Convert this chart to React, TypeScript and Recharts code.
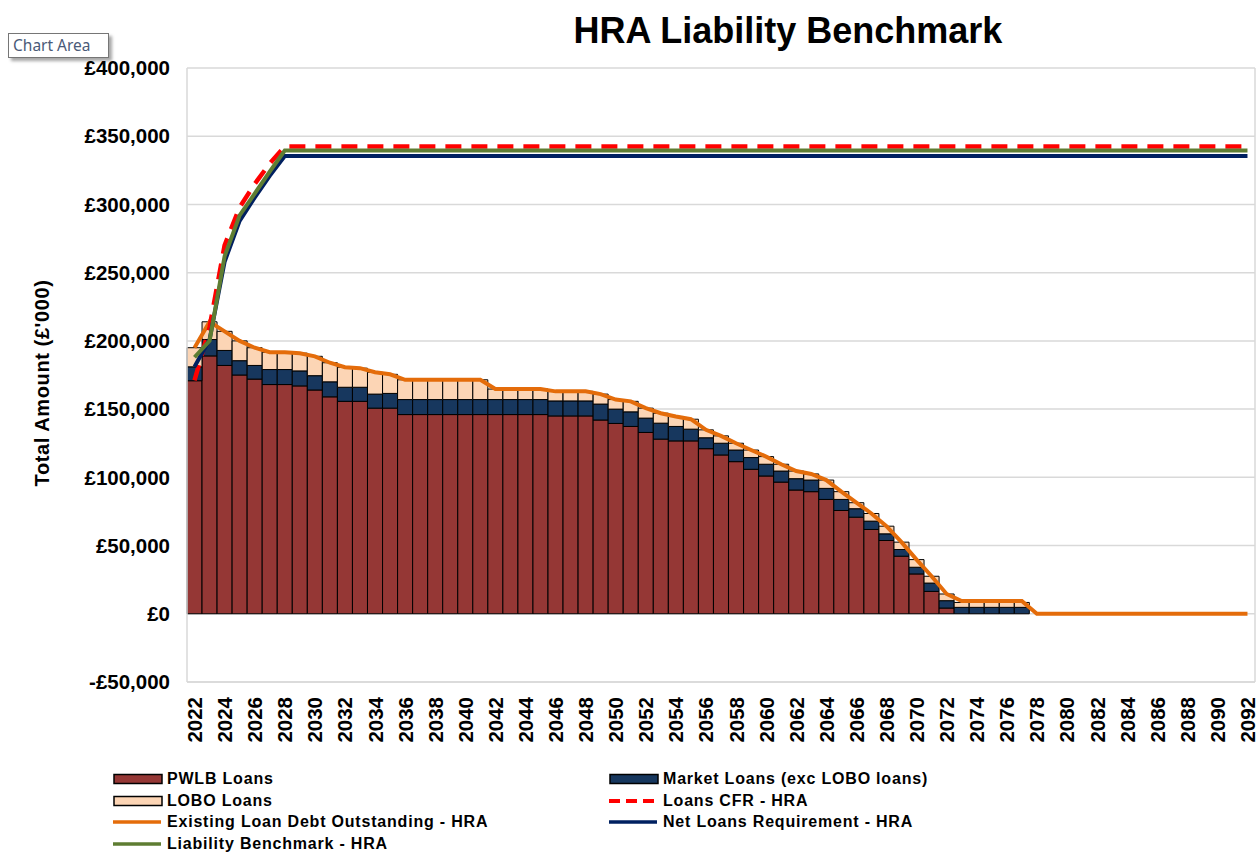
import { Bar, ComposedChart, CartesianGrid, Legend, Line, XAxis, YAxis } from "recharts";

const font = '"Liberation Sans", Arial, sans-serif';

const years = [
  "2022", "2023", "2024", "2025", "2026", "2027", "2028", "2029",
  "2030", "2031", "2032", "2033", "2034", "2035", "2036", "2037", "2038", "2039",
  "2040", "2041", "2042", "2043", "2044", "2045", "2046", "2047", "2048", "2049",
  "2050", "2051", "2052", "2053", "2054", "2055", "2056", "2057", "2058", "2059",
  "2060", "2061", "2062", "2063", "2064", "2065", "2066", "2067", "2068", "2069",
  "2070", "2071", "2072", "2073", "2074", "2075", "2076", "2077", "2078", "2079",
  "2080", "2081", "2082", "2083", "2084", "2085", "2086", "2087", "2088", "2089",
  "2090", "2091", "2092",
];

// £'000
const pwlbLoans = [
  170800, 189000, 182000, 175000, 172000, 168000, 168000, 167000,
  164000, 159000, 155700, 155700, 150700, 150700, 146000, 146000, 146000, 146000,
  146000, 146000, 146000, 146000, 146000, 146000, 145000, 145000, 145000, 142000,
  139500, 137300, 132900, 128000, 126700, 126700, 121000, 116400, 111500, 105900,
  101000, 96500, 90700, 89500, 83800, 75700, 70800, 61800, 53700, 42200,
  29200, 16400, 4200, 0, 0, 0, 0, 0, 0, 0,
  0, 0, 0, 0, 0, 0, 0, 0, 0, 0,
  0, 0, 0,
];

const marketLoans = [
  10200, 12000, 11000, 10500, 10000, 11000, 11000, 11000,
  10500, 11000, 10300, 10300, 10300, 10800, 11000, 11000, 11000, 11000,
  11000, 11000, 11000, 11000, 11000, 11000, 11000, 11000, 11000, 11700,
  10500, 10700, 10500, 11700, 10600, 8600, 8000, 8600, 8500, 8600,
  8600, 8100, 8300, 8500, 8100, 8100, 6200, 6100, 4900, 4900,
  4900, 6100, 5400, 4700, 4700, 4700, 4700, 4700, 0, 0,
  0, 0, 0, 0, 0, 0, 0, 0, 0, 0,
  0, 0, 0,
];

const loboLoans = [
  14000, 13000, 14000, 14500, 13000, 12700, 12700, 13000,
  14200, 14000, 14700, 14000, 16000, 14000, 14500, 14500, 14500, 14500,
  14500, 14500, 7700, 7700, 7700, 7700, 7000, 7000, 7000, 7300,
  7000, 7700, 7300, 7300, 7300, 7300, 5800, 5400, 5000, 5500,
  5600, 5000, 5600, 4500, 6100, 5700, 4400, 5600, 5600, 5400,
  5600, 5000, 4900, 3600, 3600, 3600, 3600, 3600, 0, 0,
  0, 0, 0, 0, 0, 0, 0, 0, 0, 0,
  0, 0, 0,
];

const loansCfr = [
  171000, 210000, 270000, 298000, 315000, 330000, 342500, 342500,
  342500, 342500, 342500, 342500, 342500, 342500, 342500, 342500, 342500, 342500,
  342500, 342500, 342500, 342500, 342500, 342500, 342500, 342500, 342500, 342500,
  342500, 342500, 342500, 342500, 342500, 342500, 342500, 342500, 342500, 342500,
  342500, 342500, 342500, 342500, 342500, 342500, 342500, 342500, 342500, 342500,
  342500, 342500, 342500, 342500, 342500, 342500, 342500, 342500, 342500, 342500,
  342500, 342500, 342500, 342500, 342500, 342500, 342500, 342500, 342500, 342500,
  342500, 342500, 342500,
];

const existingDebt = [
  195000, 214000, 207000, 200000, 195000, 191700, 191700, 191000,
  188700, 184000, 180700, 180000, 177000, 175500, 171500, 171500, 171500, 171500,
  171500, 171500, 164700, 164700, 164700, 164700, 163000, 163000, 163000, 161000,
  157000, 155700, 150700, 147000, 144600, 142600, 134800, 130400, 125000, 120000,
  115200, 109600, 104600, 102500, 98000, 89500, 81400, 73500, 64200, 52500,
  39700, 27500, 14500, 9400, 9400, 9400, 9400, 9400, 0, 0,
  0, 0, 0, 0, 0, 0, 0, 0, 0, 0,
  0, 0, 0,
];

const netLoansRequirement = [
  181000, 201000, 258000, 288000, 305000, 321000, 335500, 335500,
  335500, 335500, 335500, 335500, 335500, 335500, 335500, 335500, 335500, 335500,
  335500, 335500, 335500, 335500, 335500, 335500, 335500, 335500, 335500, 335500,
  335500, 335500, 335500, 335500, 335500, 335500, 335500, 335500, 335500, 335500,
  335500, 335500, 335500, 335500, 335500, 335500, 335500, 335500, 335500, 335500,
  335500, 335500, 335500, 335500, 335500, 335500, 335500, 335500, 335500, 335500,
  335500, 335500, 335500, 335500, 335500, 335500, 335500, 335500, 335500, 335500,
  335500, 335500, 335500,
];

const liabilityBenchmark = [
  188000, 200000, 262000, 292000, 308000, 324000, 339500, 339500,
  339500, 339500, 339500, 339500, 339500, 339500, 339500, 339500, 339500, 339500,
  339500, 339500, 339500, 339500, 339500, 339500, 339500, 339500, 339500, 339500,
  339500, 339500, 339500, 339500, 339500, 339500, 339500, 339500, 339500, 339500,
  339500, 339500, 339500, 339500, 339500, 339500, 339500, 339500, 339500, 339500,
  339500, 339500, 339500, 339500, 339500, 339500, 339500, 339500, 339500, 339500,
  339500, 339500, 339500, 339500, 339500, 339500, 339500, 339500, 339500, 339500,
  339500, 339500, 339500,
];

const yTicks = [-50000, 0, 50000, 100000, 150000, 200000, 250000, 300000, 350000, 400000];

const data = years.map((year, i) => ({
  year,
  pwlb: pwlbLoans[i],
  market: marketLoans[i],
  lobo: loboLoans[i],
  cfr: loansCfr[i],
  existing: existingDebt[i],
  net: netLoansRequirement[i],
  lb: liabilityBenchmark[i],
}));

const colors = {
  pwlb: "#953735",
  market: "#17375E",
  lobo: "#FCD5B5",
  cfr: "#FF0000",
  existing: "#E46C0A",
  net: "#002060",
  lb: "#5E7D32",
  grid: "#D9D9D9",
};

const legendItems = [
  { label: "PWLB Loans", kind: "bar", color: colors.pwlb },
  { label: "Market Loans (exc LOBO loans)", kind: "bar", color: colors.market },
  { label: "LOBO Loans", kind: "bar", color: colors.lobo },
  { label: "Loans CFR - HRA", kind: "dash", color: colors.cfr },
  { label: "Existing Loan Debt Outstanding - HRA", kind: "line", color: colors.existing },
  { label: "Net Loans Requirement - HRA", kind: "line", color: colors.net },
  { label: "Liability Benchmark - HRA", kind: "line", color: colors.lb },
];

const money = (v: number) => (v < 0 ? "-£" : "£") + Math.abs(v).toLocaleString("en-GB");

function YearTick({ x, y, payload }: any) {
  return (
    <text
      x={x}
      y={y}
      transform={`rotate(-90, ${x}, ${y})`}
      textAnchor="end"
      dominantBaseline="central"
      fontSize={20.5}
      fontWeight="bold"
      fill="#000"
    >
      {payload.value}
    </text>
  );
}

function AxisTitle({ viewBox }: any) {
  const cx = 42;
  const cy = viewBox.y + viewBox.height / 2 + 8;
  return (
    <text
      x={cx}
      y={cy}
      transform={`rotate(-90, ${cx}, ${cy})`}
      textAnchor="middle"
      dominantBaseline="central"
      fontSize={20}
      fontWeight="bold"
      letterSpacing={0.6}
      fill="#000"
    >
      Total Amount (£'000)
    </text>
  );
}

function Swatch({ kind, color }: { kind: string; color: string }) {
  if (kind === "bar") {
    return (
      <svg width={50} height={12} style={{ position: "absolute", left: 0, top: -6 }}>
        <rect x={1} y={1.5} width={48} height={9} fill={color} stroke="#000" strokeWidth={1.5} />
      </svg>
    );
  }
  return (
    <svg width={50} height={12} style={{ position: "absolute", left: 0, top: -6 }}>
      <line
        x1={0}
        x2={48}
        y1={6}
        y2={6}
        stroke={color}
        strokeWidth={kind === "dash" ? 4 : 3.5}
        strokeDasharray={kind === "dash" ? "11 6" : undefined}
      />
    </svg>
  );
}

function ChartLegend() {
  return (
    <div style={{ position: "relative", width: 1259, height: 88, fontFamily: font }}>
      {legendItems.map((item, i) => {
        const left = i % 2 === 0 ? 113 : 609;
        const top = 15 + Math.floor(i / 2) * 21.7;
        return (
          <div key={item.label} style={{ position: "absolute", left, top, height: 0 }}>
            <Swatch kind={item.kind} color={item.color} />
            <span
              style={{
                position: "absolute",
                left: 54,
                top: -10,
                whiteSpace: "nowrap",
                fontSize: 16,
                lineHeight: "20px",
                fontWeight: "bold",
                letterSpacing: 0.8,
                color: "#000",
              }}
            >
              {item.label}
            </span>
          </div>
        );
      })}
    </div>
  );
}

export default function App() {
  return (
    <div
      style={{
        position: "absolute",
        left: 0,
        top: 0,
        width: 1259,
        height: 852,
        background: "#fff",
        fontFamily: font,
        overflow: "hidden",
      }}
    >
      <div
        style={{
          position: "absolute",
          left: 0,
          top: 13,
          width: 1576,
          textAlign: "center",
          fontSize: 36,
          lineHeight: "36px",
          fontWeight: "bold",
          color: "#000",
        }}
      >
        HRA Liability Benchmark
      </div>
      <ComposedChart
        width={1259}
        height={852}
        data={data}
        margin={{ top: 68, right: 0, bottom: 0, left: 0 }}
        barCategoryGap={0}
        barGap={0}
      >
        <CartesianGrid vertical={false} stroke={colors.grid} strokeWidth={1.5} />
        <XAxis
          dataKey="year"
          interval={1}
          height={82}
          tick={<YearTick />}
          tickLine={false}
          tickSize={6}
          tickMargin={9}
          axisLine={{ stroke: colors.grid, strokeWidth: 1.5 }}
        />
        <YAxis
          domain={[-50000, 400000]}
          ticks={yTicks}
          tickFormatter={money}
          width={187}
          tickLine={false}
          tickSize={6}
          tickMargin={11}
          tick={{ fontSize: 20.5, fontWeight: "bold", fill: "#000" }}
          axisLine={{ stroke: colors.grid, strokeWidth: 1.5 }}
          label={<AxisTitle />}
        />
        <YAxis
          yAxisId="frame"
          orientation="right"
          domain={[-50000, 400000]}
          width={4}
          tick={false}
          tickLine={false}
          axisLine={{ stroke: colors.grid, strokeWidth: 1.5 }}
        />
        <Bar dataKey="pwlb" name="PWLB Loans" stackId="loans" fill={colors.pwlb} stroke="#000" strokeWidth={1} isAnimationActive={false} />
        <Bar dataKey="market" name="Market Loans (exc LOBO loans)" stackId="loans" fill={colors.market} stroke="#000" strokeWidth={1} isAnimationActive={false} />
        <Bar dataKey="lobo" name="LOBO Loans" stackId="loans" fill={colors.lobo} stroke="#000" strokeWidth={1} isAnimationActive={false} />
        <Line dataKey="existing" name="Existing Loan Debt Outstanding - HRA" type="linear" stroke={colors.existing} strokeWidth={4} dot={false} activeDot={false} isAnimationActive={false} />
        <Line dataKey="cfr" name="Loans CFR - HRA" type="linear" stroke={colors.cfr} strokeWidth={4.5} strokeDasharray="16 10" dot={false} activeDot={false} isAnimationActive={false} />
        <Line dataKey="net" name="Net Loans Requirement - HRA" type="linear" stroke={colors.net} strokeWidth={4} dot={false} activeDot={false} isAnimationActive={false} />
        <Line dataKey="lb" name="Liability Benchmark - HRA" type="linear" stroke={colors.lb} strokeWidth={4} dot={false} activeDot={false} isAnimationActive={false} />
        <Legend verticalAlign="bottom" content={<ChartLegend />} wrapperStyle={{ height: 88 }} />
      </ComposedChart>
      <div
        style={{
          position: "absolute",
          left: 8,
          top: 33,
          width: 95,
          height: 23,
          border: "1px solid #767676",
          background: "#fff",
          boxShadow: "3px 3px 3px rgba(0,0,0,0.35)",
          fontFamily: '"Noto Sans", sans-serif',
          fontSize: 15.5,
          lineHeight: "23px",
          color: "#4a5a78",
          paddingLeft: 4,
          boxSizing: "content-box",
        }}
      >
        Chart Area
      </div>
    </div>
  );
}
